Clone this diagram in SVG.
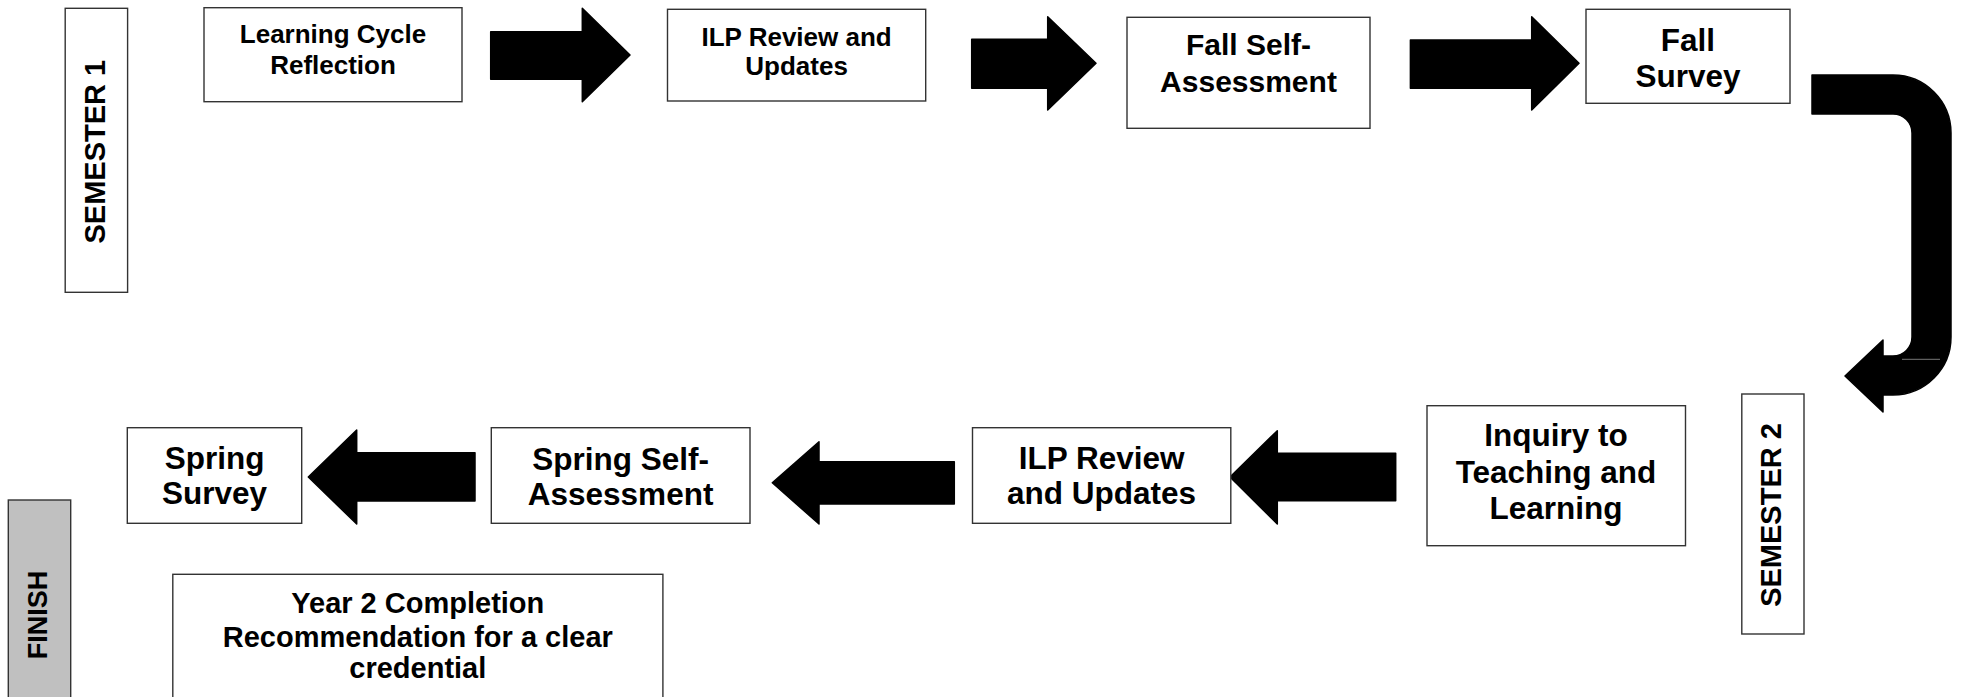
<svg xmlns="http://www.w3.org/2000/svg" width="1965" height="697" viewBox="0 0 1965 697">
<style>
.box{fill:#fff;stroke:#333;stroke-width:1.4}
.gray{fill:#c0c0c0;stroke:#333;stroke-width:1.4}
.arr{fill:#000;stroke:#000;stroke-width:1.5;stroke-linejoin:round}
text{font-family:"Liberation Sans",Arial,sans-serif;font-weight:bold;fill:#000;text-anchor:middle}
.s26{font-size:26px}
.s30{font-size:30px}
.s31{font-size:31.5px}
.s28{font-size:29px}
.v{font-size:29px}
</style>
<rect width="1965" height="697" fill="#fff"/>
<g id="connectors">
<path class="arr" d="M490.7,31.7 H582.3 V8.3 L630,55 L582.3,101.7 V79.3 H490.7 Z"/>
<path class="arr" d="M971.7,39.3 H1047.7 V16.7 L1096,63.3 L1047.7,110 V88.3 H971.7 Z"/>
<path class="arr" d="M1410.4,40 H1531.7 V16.7 L1579,63.3 L1531.7,110 V88.3 H1410.4 Z"/>
<path class="arr" d="M1812,75 H1893 A58,58 0 0 1 1951,133 V337 A58,58 0 0 1 1893,395 H1883 V412 L1845,376 L1883,340 V356 H1893 A19,19 0 0 0 1912,337 V133 A19,19 0 0 0 1893,114 H1812 Z"/>
<line x1="1902" y1="359.3" x2="1940" y2="359.3" stroke="#777" stroke-width="1"/>
<path class="arr" d="M1395.7,453.3 H1277.3 V430.7 L1230,477 L1277.3,524 V500.7 H1395.7 Z"/>
<path class="arr" d="M954.3,461.7 H819 V441.7 L772.3,482.8 L819,524 V504 H954.3 Z"/>
<path class="arr" d="M475,452.7 H356.7 V430 L308.3,477 L356.7,524 V501 H475 Z"/>
</g>
<g id="semester1">
<rect class="box" x="65.2" y="8.3" width="62.4" height="284"/>
<text class="v" transform="translate(104.5,151.7) rotate(-90)">SEMESTER 1</text>
</g>
<g id="learning-cycle">
<rect class="box" x="204" y="7.7" width="258" height="94"/>
<text class="s26" x="333"><tspan x="333" y="43">Learning Cycle</tspan><tspan x="333" y="74">Reflection</tspan></text>
</g>
<g id="ilp-fall">
<rect class="box" x="667.5" y="9.3" width="258.2" height="91.7"/>
<text class="s26" x="796.6"><tspan x="796.6" y="45.5">ILP Review and</tspan><tspan x="796.6" y="74.5">Updates</tspan></text>
</g>
<g id="fall-self">
<rect class="box" x="1127" y="17.3" width="243" height="111"/>
<text class="s30" x="1248.5"><tspan x="1248.5" y="55">Fall Self-</tspan><tspan x="1248.5" y="92.3">Assessment</tspan></text>
</g>
<g id="fall-survey">
<rect class="box" x="1586" y="9.3" width="204" height="94"/>
<text class="s31" x="1688"><tspan x="1688" y="50.5">Fall</tspan><tspan x="1688" y="86.7">Survey</tspan></text>
</g>
<g id="inquiry">
<rect class="box" x="1427" y="405.7" width="258.5" height="140"/>
<text class="s31" x="1556"><tspan x="1556" y="445.7">Inquiry to</tspan><tspan x="1556" y="482.7">Teaching and</tspan><tspan x="1556" y="519.3">Learning</tspan></text>
</g>
<g id="semester2">
<rect class="box" x="1741.8" y="394" width="62.2" height="240"/>
<text class="v" transform="translate(1780.5,515) rotate(-90)">SEMESTER 2</text>
</g>
<g id="ilp-spring">
<rect class="box" x="972.5" y="427.7" width="258.3" height="95.6"/>
<text class="s31" x="1101.6"><tspan x="1101.6" y="469.3">ILP Review</tspan><tspan x="1101.6" y="504.3">and Updates</tspan></text>
</g>
<g id="spring-self">
<rect class="box" x="491.3" y="427.7" width="258.7" height="95.6"/>
<text class="s31" x="620.6"><tspan x="620.6" y="470">Spring Self-</tspan><tspan x="620.6" y="505">Assessment</tspan></text>
</g>
<g id="spring-survey">
<rect class="box" x="127.3" y="427.7" width="174.4" height="95.6"/>
<text class="s31" x="214.5"><tspan x="214.5" y="469">Spring</tspan><tspan x="214.5" y="504">Survey</tspan></text>
</g>
<g id="finish">
<rect class="gray" x="8.3" y="500" width="62.4" height="210"/>
<text style="font-size:27px" transform="translate(46.5,615) rotate(-90)">FINISH</text>
</g>
<g id="year2">
<rect class="box" x="172.8" y="574.3" width="490.1" height="140"/>
<text class="s28" x="417.8"><tspan x="417.8" y="613.3">Year 2 Completion</tspan><tspan x="417.8" y="646.7">Recommendation for a clear</tspan><tspan x="417.8" y="678.3">credential</tspan></text>
</g>
</svg>
